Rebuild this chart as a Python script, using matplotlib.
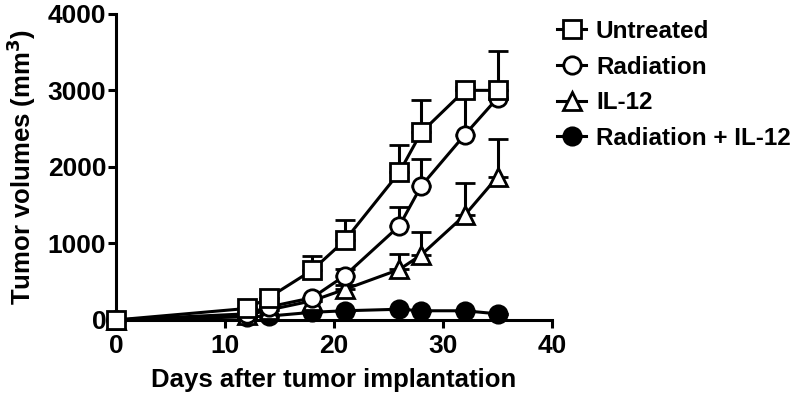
import numpy as np
import matplotlib
matplotlib.use("Agg")
import matplotlib.pyplot as plt

plt.rcParams["font.family"] = ["Liberation Sans", "DejaVu Sans"]
plt.rcParams["font.weight"] = "bold"

# Data (days, mean volume, upper SEM)
days = [0, 12, 14, 18, 21, 26, 28, 32, 35]

untreated = [0, 150, 290, 650, 1040, 1930, 2450, 3000, 3000]
untreated_err = [0, 0, 0, 180, 260, 350, 420, 40, 520]

radiation = [0, 80, 170, 290, 580, 1230, 1750, 2420, 2900]
radiation_err = [0, 0, 0, 0, 90, 240, 350, 580, 100]

il12 = [0, 60, 130, 250, 400, 660, 850, 1370, 1870]
il12_err = [0, 0, 0, 0, 60, 200, 300, 420, 490]

rad_il12 = [0, 40, 50, 100, 120, 140, 120, 120, 80]
rad_il12_err = [0, 0, 0, 0, 0, 0, 0, 0, 0]

labels = ["Untreated", "Radiation", "IL-12", "Radiation + IL-12"]

fig = plt.figure(figsize=(8, 3.95), dpi=100)
ax = fig.add_axes([0.145, 0.19, 0.545, 0.775])

series = [
    (rad_il12, rad_il12_err, "o", "black", labels[3]),
    (il12, il12_err, "^", "white", labels[2]),
    (radiation, radiation_err, "o", "white", labels[1]),
    (untreated, untreated_err, "s", "white", labels[0]),
]

handles = {}
for vals, err, mk, fc, lab in series:
    vals = np.array(vals)
    err = np.array(err)
    h = ax.errorbar(days, vals, yerr=[np.zeros_like(err), err], fmt="-",
                    marker=mk, color="black", mfc=fc, mec="black", mew=2,
                    ms=12.5, lw=2.2, elinewidth=2.2, capsize=7, capthick=2.2,
                    label=lab, clip_on=False, zorder=3)
    handles[lab] = h[0]

ax.set_xlim(0, 40)
ax.set_ylim(0, 4000)
ax.set_xticks([0, 10, 20, 30, 40])
ax.set_yticks([0, 1000, 2000, 3000, 4000])
ax.spines["top"].set_visible(False)
ax.spines["right"].set_visible(False)
for s in ["left", "bottom"]:
    ax.spines[s].set_linewidth(2.2)
ax.tick_params(width=2.2, length=6, labelsize=19)
ax.tick_params(axis="x", pad=4)
ax.tick_params(axis="y", pad=1)
for t in ax.get_xticklabels() + ax.get_yticklabels():
    t.set_fontweight("bold")

ax.set_xlabel("Days after tumor implantation", fontsize=18.5, fontweight="bold", labelpad=7)
ax.set_ylabel("Tumor volumes (mm$^\\mathbf{3}$)", fontsize=18.5, fontweight="bold", labelpad=7)

fig.legend([handles[l] for l in labels], labels, loc="upper left",
           bbox_to_anchor=(0.669, 1.005), frameon=False,
           handlelength=1.2, handletextpad=0.4, labelspacing=0.52,
           prop={"weight": "bold", "size": 17.5})

fig.savefig("out.png", dpi=100)
